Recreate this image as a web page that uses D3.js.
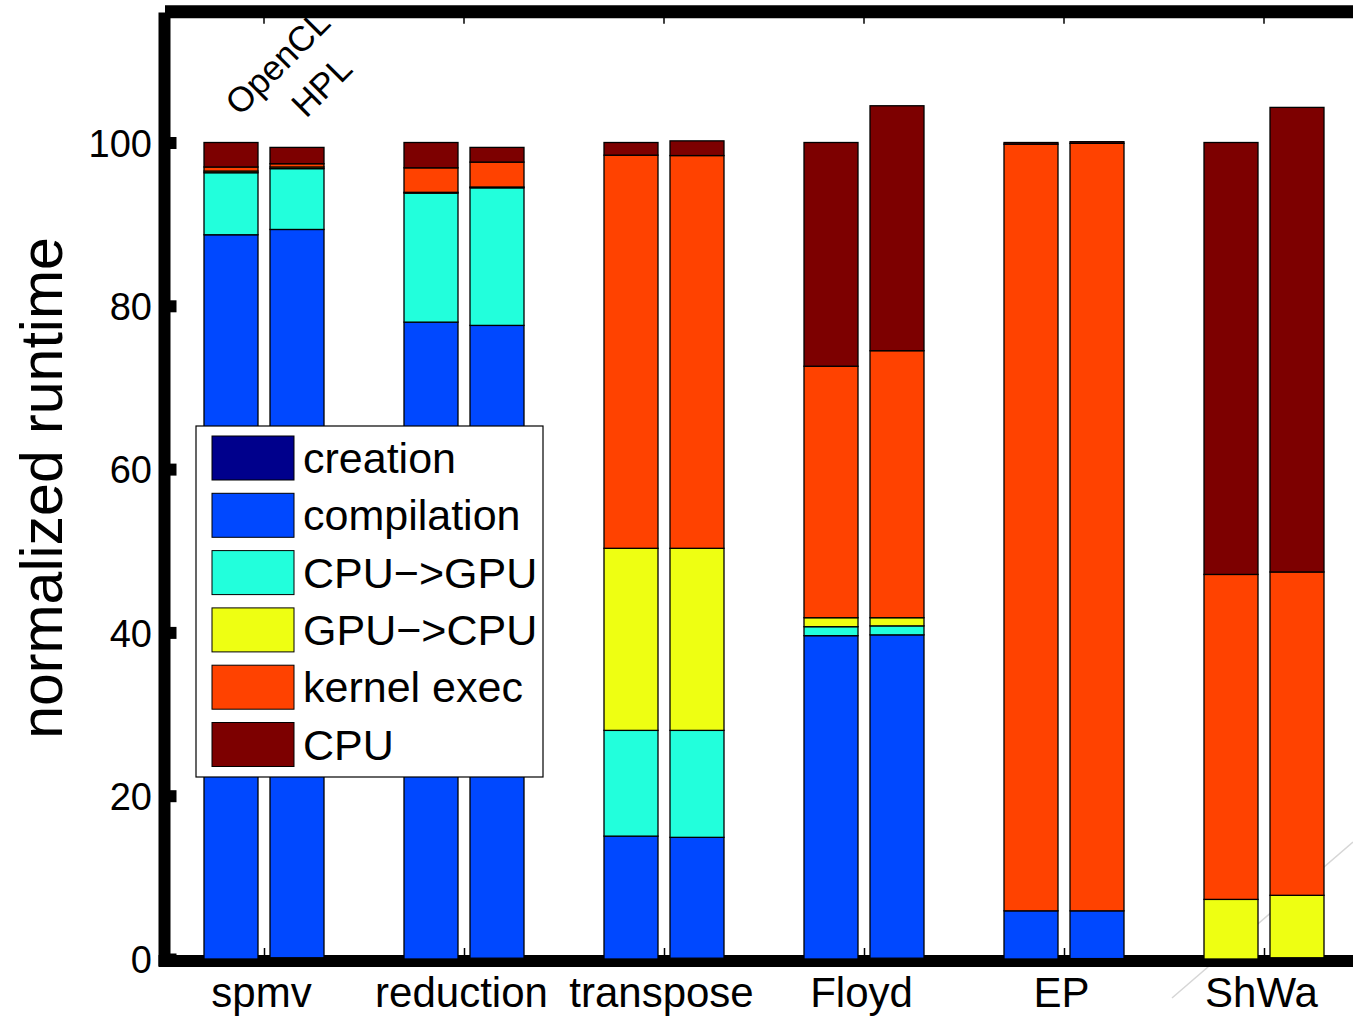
<!DOCTYPE html>
<html>
<head>
<meta charset="utf-8">
<script src="https://cdn.jsdelivr.net/npm/d3@7"></script>
<style>
  html, body { margin: 0; padding: 0; background: #fff; }
  svg { display: block; }
  text { font-family: "Liberation Sans", Arial, Helvetica, sans-serif; fill: #000; }
</style>
</head>
<body>
<svg id="chart" width="1353" height="1018"></svg>
<script>
// Benchmarks along the x axis
const groups = ["spmv", "reduction", "transpose", "Floyd", "EP", "ShWa"];
// Two implementations per benchmark (left bar, right bar)
const implementations = ["OpenCL", "HPL"];
// Runtime components, bottom to top of each stack
const components = ["creation", "compilation", "CPU\u2212>GPU", "GPU\u2212>CPU", "kernel exec", "CPU"];
const componentColors = ["#00008c", "#0048ff", "#22ffdc", "#eeff12", "#ff4200", "#7d0000"];

// Normalized runtime (%) per component, OpenCL version
const openclCreation    = [0.0, 0.0, 0.0, 0.0, 0.0, 0.0];
const openclCompilation = [88.7, 78.0, 15.05, 39.6, 5.9, 0.0];
const openclCpuToGpu    = [7.6, 15.8, 12.95, 1.1, 0.0, 0.0];
const openclGpuToCpu    = [0.2, 0.1, 22.3, 1.1, 0.0, 7.3];
const openclKernel      = [0.5, 3.0, 48.15, 30.8, 93.9, 39.8];
const openclCpu         = [3.0, 3.1, 1.55, 27.4, 0.2, 52.9];

// Normalized runtime (%) per component, HPL version
const hplCreation    = [0.15, 0.1, 0.1, 0.1, 0.05, 0.15];
const hplCompilation = [89.2, 77.5, 14.8, 39.6, 5.85, 0.0];
const hplCpuToGpu    = [7.45, 16.85, 13.1, 1.1, 0.0, 0.0];
const hplGpuToCpu    = [0.2, 0.1, 22.3, 1.0, 0.0, 7.65];
const hplKernel      = [0.4, 3.05, 48.1, 32.7, 94.0, 39.6];
const hplCpu         = [2.0, 1.8, 1.8, 30.0, 0.2, 56.9];

const yTicks = [0, 20, 40, 60, 80, 100];

// ---- build rows for d3.stack ----
const seriesByImpl = {
  OpenCL: [openclCreation, openclCompilation, openclCpuToGpu, openclGpuToCpu, openclKernel, openclCpu],
  HPL:    [hplCreation, hplCompilation, hplCpuToGpu, hplGpuToCpu, hplKernel, hplCpu]
};
const rows = [];
groups.forEach((g, gi) => {
  implementations.forEach((impl, ii) => {
    const row = { group: g, gi: gi, impl: impl, ii: ii };
    components.forEach((c, ci) => { row[c] = seriesByImpl[impl][ci][gi]; });
    rows.push(row);
  });
});

const svg = d3.select("#chart");
const W = 1353, H = 1018;
svg.append("rect").attr("width", W).attr("height", H).attr("fill", "#fff");

// scales
const x = d3.scaleLinear().domain([0, groups.length - 1]).range([264, 1264]);
const y = d3.scaleLinear().domain([0, 100]).range([959, 142.5]);
const barOffset = 33, barWidth = 54;
const xLeft = 164.5, yTop = y(116);

const color = d3.scaleOrdinal().domain(components).range(componentColors);

// faint diagonal stroke in the lower right
svg.append("line")
  .attr("x1", 1172).attr("y1", 998).attr("x2", 1353).attr("y2", 842)
  .attr("stroke", "#d6d6d6").attr("stroke-width", 1.5);

// frame: thick left, bottom and top lines
svg.append("line").attr("x1", xLeft).attr("x2", xLeft).attr("y1", 12.5).attr("y2", 966)
  .attr("stroke", "#000").attr("stroke-width", 12);
svg.append("line").attr("x1", 158.5).attr("x2", W + 5).attr("y1", 961).attr("y2", 961)
  .attr("stroke", "#000").attr("stroke-width", 12);
svg.append("line").attr("x1", 165).attr("x2", W + 5).attr("y1", yTop).attr("y2", yTop)
  .attr("stroke", "#000").attr("stroke-width", 13);

// y axis ticks and labels
const yAxis = d3.axisLeft(y).tickValues(yTicks).tickSize(0).tickPadding(0);
const yAxisG = svg.append("g").attr("transform", `translate(${xLeft},0)`).call(yAxis);
yAxisG.select(".domain").remove();
yAxisG.selectAll(".tick text")
  .attr("x", -12.5).attr("dy", "0.36em")
  .style("font-size", "38px").style("font-family", "Liberation Sans, Arial, sans-serif")
  .attr("fill", "#000");
yAxisG.selectAll(".tick").append("rect")
  .attr("x", 5).attr("y", -6).attr("width", 7).attr("height", 12).attr("fill", "#000");

// x axis: ticks at group centres, labels below
const xAxis = d3.axisBottom(x).tickValues(d3.range(groups.length))
  .tickFormat(i => groups[i]).tickSize(0).tickPadding(0);
const xAxisG = svg.append("g").attr("transform", "translate(0,961)").call(xAxis);
xAxisG.select(".domain").remove();
xAxisG.selectAll(".tick text")
  .attr("x", -3).attr("y", 46).attr("dy", 0)
  .style("font-size", "42px").style("font-family", "Liberation Sans, Arial, sans-serif")
  .attr("fill", "#000");
xAxisG.selectAll(".tick").append("line")
  .attr("y1", -6).attr("y2", -13).attr("stroke", "#000").attr("stroke-width", 1.5);

// small tick marks hanging from the top line
svg.append("g").selectAll("line").data(d3.range(groups.length)).join("line")
  .attr("x1", i => x(i)).attr("x2", i => x(i))
  .attr("y1", yTop + 6).attr("y2", yTop + 12)
  .attr("stroke", "#000").attr("stroke-width", 1.5);

// stacked bars
const stack = d3.stack().keys(components);
const stacked = stack(rows);
const barX = d => x(d.data.gi) + (d.data.ii === 0 ? -barOffset : barOffset) - barWidth / 2;

svg.append("g").selectAll("g").data(stacked).join("g")
  .attr("fill", s => color(s.key))
  .selectAll("rect").data(s => s.filter(d => d[1] - d[0] > 0)).join("rect")
  .attr("x", barX)
  .attr("y", d => y(d[1]))
  .attr("width", barWidth)
  .attr("height", d => y(d[0]) - y(d[1]))
  .attr("stroke", "#000").attr("stroke-width", 1.3);

// implementation labels above the first pair of bars
svg.append("g").selectAll("text").data(implementations).join("text")
  .attr("transform", (d, i) => `translate(${x(0) + (i === 0 ? -barOffset : barOffset) + 9},${117 + i * 2}) rotate(-45)`)
  .style("font-size", "35px")
  .text(d => d);

// y axis title
svg.append("text")
  .attr("transform", "translate(62,488) rotate(-90)")
  .attr("text-anchor", "middle")
  .style("font-size", "59px")
  .text("normalized runtime");

// legend
const legend = svg.append("g");
legend.append("rect")
  .attr("x", 196).attr("y", 426).attr("width", 347).attr("height", 351)
  .attr("fill", "#fff").attr("stroke", "#000").attr("stroke-width", 1.2);
const rowStep = 57.3;
const items = legend.selectAll("g.item").data(components).join("g")
  .attr("class", "item")
  .attr("transform", (d, i) => `translate(0,${436 + i * rowStep})`);
items.append("rect")
  .attr("x", 212).attr("y", 0).attr("width", 82).attr("height", 44)
  .attr("fill", d => color(d)).attr("stroke", "#000").attr("stroke-width", 1);
items.append("text")
  .attr("x", 303).attr("y", 37)
  .style("font-size", "43px")
  .text(d => d);
</script>
</body>
</html>
